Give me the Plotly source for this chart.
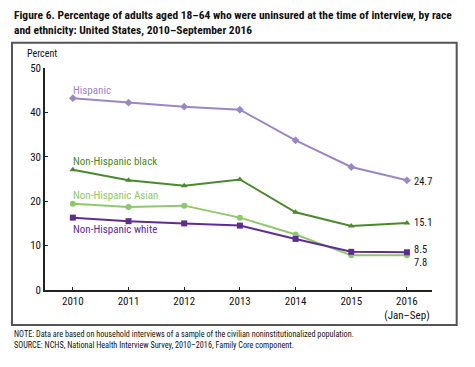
import plotly.graph_objects as go

years = [2010, 2011, 2012, 2013, 2014, 2015, 2016]
tick_labels = ["2010", "2011", "2012", "2013", "2014", "2015", "2016<br>(Jan–Sep)"]
hispanic = [43.2, 42.2, 41.3, 40.6, 33.7, 27.7, 24.7]
nh_black = [27.1, 24.7, 23.5, 24.9, 17.5, 14.4, 15.1]
nh_asian = [19.4, 18.7, 19.0, 16.3, 12.5, 7.8, 7.8]
nh_white = [16.3, 15.5, 15.0, 14.5, 11.5, 8.6, 8.5]
y_ticks = [0, 10, 20, 30, 40, 50]

series = [
    ("Hispanic", hispanic, "#9b87c4", "diamond", 45.0),
    ("Non-Hispanic black", nh_black, "#4a8a2c", "triangle-up", 28.9),
    ("Non-Hispanic Asian", nh_asian, "#8dc96a", "circle", 21.2),
    ("Non-Hispanic white", nh_white, "#5e2d91", "square", 13.6),
]

FONT = "Liberation Sans Narrow, Roboto Condensed, Arial Narrow, sans-serif"

fig = go.Figure()
for name, vals, color, sym, ly in series:
    fig.add_trace(go.Scatter(
        x=years, y=vals, mode="lines+markers", name=name,
        line=dict(color=color, width=2),
        marker=dict(symbol=sym, size=6, color=color),
        showlegend=False, hoverinfo="skip",
    ))
    fig.add_annotation(x=years[0], y=ly, text=name, showarrow=False,
                       xanchor="left", yanchor="middle", xshift=-2,
                       font=dict(family=FONT, size=11, color=color))

end_labels = [(hispanic[-1], 24.5, "24.7"), (nh_black[-1], 15.1, "15.1"),
              (nh_white[-1], 9.1, "8.5"), (nh_asian[-1], 6.3, "7.8")]
for v, ypos, txt in end_labels:
    fig.add_annotation(x=years[-1], y=ypos, text=txt, showarrow=False,
                       xanchor="left", yanchor="middle", xshift=5,
                       font=dict(family=FONT, size=10.5, color="#111111"))

# Title
fig.add_annotation(xref="paper", yref="paper", x=-0.0853, y=1.28,
                   text="<b>Figure 6. Percentage of adults aged 18–64 who were uninsured at the time of interview, by race<br>and ethnicity: United States, 2010–September 2016</b>",
                   showarrow=False, xanchor="left", yanchor="top", align="left",
                   font=dict(family=FONT, size=11.5, color="#111111"))
# Percent label
fig.add_annotation(xref="paper", yref="paper", x=-0.052, y=(290 - 54) / 222,
                   text="Percent", showarrow=False, xanchor="left", yanchor="middle",
                   font=dict(family=FONT, size=10, color="#111111"))
# Notes
fig.add_annotation(xref="paper", yref="paper", x=-0.0853, y=(290 - 327) / 222,
                   text="NOTE: Data are based on household interviews of a sample of the civilian noninstitutionalized population.<br>SOURCE: NCHS, National Health Interview Survey, 2010–2016, Family Core component.",
                   showarrow=False, xanchor="left", yanchor="top", align="left",
                   font=dict(family=FONT, size=8.2, color="#111111"))

# Frame
fig.add_shape(type="rect", xref="paper", yref="paper",
              x0=-0.0853, x1=1.0638, y0=-0.158, y1=1.114,
              line=dict(color="#555555", width=2))

fig.update_xaxes(range=[2009.5, 2016.45], tickvals=years, ticktext=tick_labels,
                 ticks="inside", ticklen=3, tickcolor="#222222",
                 showline=True, linecolor="#222222", linewidth=1.5,
                 showgrid=False, zeroline=False,
                 tickfont=dict(family=FONT, size=11, color="#111111"))
fig.update_yaxes(range=[0, 50], tickvals=y_ticks,
                 ticks="inside", ticklen=3, tickcolor="#222222",
                 showline=True, linecolor="#222222", linewidth=1.5,
                 showgrid=False, zeroline=False,
                 tickfont=dict(family=FONT, size=11, color="#111111"))

fig.update_layout(width=475, height=367, margin=dict(l=45, r=43, t=68, b=77),
                  paper_bgcolor="white", plot_bgcolor="white")

fig.write_html("out.html", config={"displayModeBar": False},
               post_script="document.body.style.margin='0px';document.body.style.overflow='hidden';")
